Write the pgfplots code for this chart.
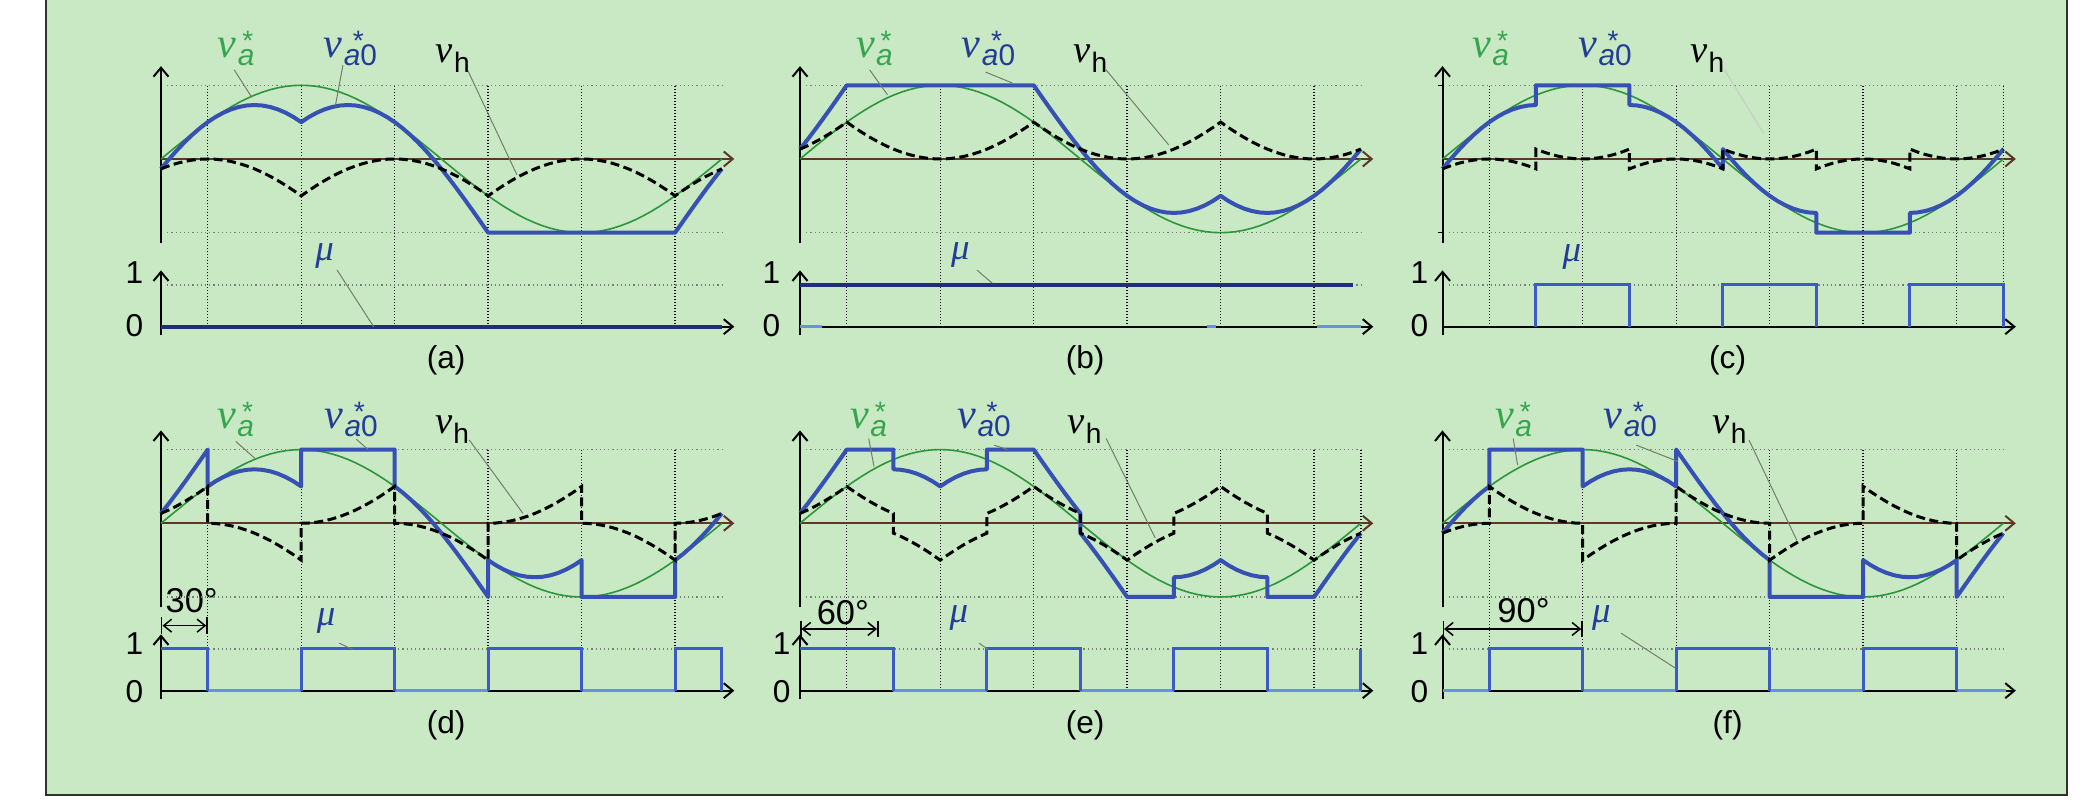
\documentclass[border=0pt]{standalone}
\usepackage{fontspec}
\setmainfont{Liberation Sans}
\newfontfamily\lserif{Liberation Serif}
\usepackage{pgfplots}
\usepackage{pgfplotstable}
\pgfplotsset{compat=1.18}
\usetikzlibrary{arrows.meta}

\definecolor{bg}{RGB}{200,233,195}
\definecolor{framec}{RGB}{45,50,45}
\definecolor{sinec}{RGB}{45,150,60}
\definecolor{sinelab}{RGB}{55,165,80}
\definecolor{va0c}{RGB}{55,80,180}
\definecolor{va0lab}{RGB}{35,60,150}
\definecolor{mudark}{RGB}{35,45,125}
\definecolor{mupulse}{RGB}{60,90,200}
\definecolor{mulight}{RGB}{105,145,225}
\definecolor{leadc}{RGB}{115,125,110}
\definecolor{axbrown}{RGB}{95,55,40}
\definecolor{hgridc}{RGB}{115,130,115}

% labels
\newcommand{\tickfont}{\fontsize{9}{9}\selectfont}
\newcommand{\capfont}{\fontsize{9}{9}\selectfont}
\newcommand{\angfont}{\fontsize{9.8}{9.8}\selectfont}
\newcommand{\mulab}{{\lserif\itshape\fontsize{10.5}{10.5}\selectfont μ}}
\newcommand{\lva}{{\lserif\itshape\fontsize{12}{12}\selectfont v}\kern0.4pt\makebox[0pt][l]{\kern1.3pt\raisebox{1.8pt}{\fontsize{8}{8}\selectfont *}}\raisebox{-2.4pt}{\fontsize{8.5}{8.5}\selectfont\itshape a}}
\newcommand{\lvao}{{\lserif\itshape\fontsize{12}{12}\selectfont v}\kern0.4pt\makebox[0pt][l]{\kern2.6pt\raisebox{1.8pt}{\fontsize{8}{8}\selectfont *}}\raisebox{-2.4pt}{\fontsize{8.5}{8.5}\selectfont{\itshape a}0}}
\newcommand{\lvh}{{\lserif\itshape\fontsize{11}{11}\selectfont v}\kern0.3pt\raisebox{-2.8pt}{\fontsize{8}{8}\selectfont h}}

% reference sine
\pgfplotstableread{
x y
0 0
5 0.0872
10 0.1736
15 0.2588
20 0.3420
25 0.4226
30 0.5000
35 0.5736
40 0.6428
45 0.7071
50 0.7660
55 0.8192
60 0.8660
65 0.9063
70 0.9397
75 0.9659
80 0.9848
85 0.9962
90 1
95 0.9962
100 0.9848
105 0.9659
110 0.9397
115 0.9063
120 0.8660
125 0.8192
130 0.7660
135 0.7071
140 0.6428
145 0.5736
150 0.5000
155 0.4226
160 0.3420
165 0.2588
170 0.1736
175 0.0872
180 0
185 -0.0872
190 -0.1736
195 -0.2588
200 -0.3420
205 -0.4226
210 -0.5000
215 -0.5736
220 -0.6428
225 -0.7071
230 -0.7660
235 -0.8192
240 -0.8660
245 -0.9063
250 -0.9397
255 -0.9659
260 -0.9848
265 -0.9962
270 -1
275 -0.9962
280 -0.9848
285 -0.9659
290 -0.9397
295 -0.9063
300 -0.8660
305 -0.8192
310 -0.7660
315 -0.7071
320 -0.6428
325 -0.5736
330 -0.5000
335 -0.4226
340 -0.3420
345 -0.2588
350 -0.1736
355 -0.0872
360 0
}\tsin

% (a) mu = 0
\pgfplotstableread{
x vh va0
0 -0.1340 -0.1340
5 -0.0937 -0.0065
10 -0.0603 0.1133
15 -0.0341 0.2247
20 -0.0152 0.3268
25 -0.0038 0.4188
30 0 0.5000
35 -0.0038 0.5698
40 -0.0152 0.6276
45 -0.0341 0.6730
50 -0.0603 0.7057
55 -0.0937 0.7255
60 -0.1340 0.7320
65 -0.1808 0.7255
70 -0.2340 0.7057
75 -0.2929 0.6730
80 -0.3572 0.6276
85 -0.4264 0.5698
90 -0.5000 0.5000
95 -0.4264 0.5698
100 -0.3572 0.6276
105 -0.2929 0.6730
110 -0.2340 0.7057
115 -0.1808 0.7255
120 -0.1340 0.7320
125 -0.0937 0.7255
130 -0.0603 0.7057
135 -0.0341 0.6730
140 -0.0152 0.6276
145 -0.0038 0.5698
150 0 0.5000
155 -0.0038 0.4188
160 -0.0152 0.3268
165 -0.0341 0.2247
170 -0.0603 0.1133
175 -0.0937 -0.0065
180 -0.1340 -0.1340
185 -0.1808 -0.2680
190 -0.2340 -0.4076
195 -0.2929 -0.5517
200 -0.3572 -0.6992
205 -0.4264 -0.8490
210 -0.5000 -1
215 -0.4264 -1
220 -0.3572 -1
225 -0.2929 -1
230 -0.2340 -1
235 -0.1808 -1
240 -0.1340 -1
245 -0.0937 -1
250 -0.0603 -1
255 -0.0341 -1
260 -0.0152 -1
265 -0.0038 -1
270 0 -1
275 -0.0038 -1
280 -0.0152 -1
285 -0.0341 -1
290 -0.0603 -1
295 -0.0937 -1
300 -0.1340 -1
305 -0.1808 -1
310 -0.2340 -1
315 -0.2929 -1
320 -0.3572 -1
325 -0.4264 -1
330 -0.5000 -1
335 -0.4264 -0.8490
340 -0.3572 -0.6992
345 -0.2929 -0.5517
350 -0.2340 -0.4076
355 -0.1808 -0.2680
360 -0.1340 -0.1340
}\tA

% (b) mu = 1
\pgfplotstableread{
x vh va0
0 0.1340 0.1340
5 0.1808 0.2680
10 0.2340 0.4076
15 0.2929 0.5517
20 0.3572 0.6992
25 0.4264 0.8490
30 0.5000 1
35 0.4264 1
40 0.3572 1
45 0.2929 1
50 0.2340 1
55 0.1808 1
60 0.1340 1
65 0.0937 1
70 0.0603 1
75 0.0341 1
80 0.0152 1
85 0.0038 1
90 0 1
95 0.0038 1
100 0.0152 1
105 0.0341 1
110 0.0603 1
115 0.0937 1
120 0.1340 1
125 0.1808 1
130 0.2340 1
135 0.2929 1
140 0.3572 1
145 0.4264 1
150 0.5000 1
155 0.4264 0.8490
160 0.3572 0.6992
165 0.2929 0.5517
170 0.2340 0.4076
175 0.1808 0.2680
180 0.1340 0.1340
185 0.0937 0.0065
190 0.0603 -0.1133
195 0.0341 -0.2247
200 0.0152 -0.3268
205 0.0038 -0.4188
210 0 -0.5000
215 0.0038 -0.5698
220 0.0152 -0.6276
225 0.0341 -0.6730
230 0.0603 -0.7057
235 0.0937 -0.7255
240 0.1340 -0.7320
245 0.1808 -0.7255
250 0.2340 -0.7057
255 0.2929 -0.6730
260 0.3572 -0.6276
265 0.4264 -0.5698
270 0.5000 -0.5000
275 0.4264 -0.5698
280 0.3572 -0.6276
285 0.2929 -0.6730
290 0.2340 -0.7057
295 0.1808 -0.7255
300 0.1340 -0.7320
305 0.0937 -0.7255
310 0.0603 -0.7057
315 0.0341 -0.6730
320 0.0152 -0.6276
325 0.0038 -0.5698
330 0 -0.5000
335 0.0038 -0.4188
340 0.0152 -0.3268
345 0.0341 -0.2247
350 0.0603 -0.1133
355 0.0937 0.0065
360 0.1340 0.1340
}\tB

% (c)
\pgfplotstableread{
x vh va0
0 -0.1340 -0.1340
5 -0.0937 -0.0065
10 -0.0603 0.1133
15 -0.0341 0.2247
20 -0.0152 0.3268
25 -0.0038 0.4188
30 0 0.5000
35 -0.0038 0.5698
40 -0.0152 0.6276
45 -0.0341 0.6730
50 -0.0603 0.7057
55 -0.0937 0.7255
60 -0.1340 0.7320
60 0.1340 1
65 0.0937 1
70 0.0603 1
75 0.0341 1
80 0.0152 1
85 0.0038 1
90 0 1
95 0.0038 1
100 0.0152 1
105 0.0341 1
110 0.0603 1
115 0.0937 1
120 0.1340 1
120 -0.1340 0.7320
125 -0.0937 0.7255
130 -0.0603 0.7057
135 -0.0341 0.6730
140 -0.0152 0.6276
145 -0.0038 0.5698
150 0 0.5000
155 -0.0038 0.4188
160 -0.0152 0.3268
165 -0.0341 0.2247
170 -0.0603 0.1133
175 -0.0937 -0.0065
180 -0.1340 -0.1340
180 0.1340 0.1340
185 0.0937 0.0065
190 0.0603 -0.1133
195 0.0341 -0.2247
200 0.0152 -0.3268
205 0.0038 -0.4188
210 0 -0.5000
215 0.0038 -0.5698
220 0.0152 -0.6276
225 0.0341 -0.6730
230 0.0603 -0.7057
235 0.0937 -0.7255
240 0.1340 -0.7320
240 -0.1340 -1
245 -0.0937 -1
250 -0.0603 -1
255 -0.0341 -1
260 -0.0152 -1
265 -0.0038 -1
270 0 -1
275 -0.0038 -1
280 -0.0152 -1
285 -0.0341 -1
290 -0.0603 -1
295 -0.0937 -1
300 -0.1340 -1
300 0.1340 -0.7320
305 0.0937 -0.7255
310 0.0603 -0.7057
315 0.0341 -0.6730
320 0.0152 -0.6276
325 0.0038 -0.5698
330 0 -0.5000
335 0.0038 -0.4188
340 0.0152 -0.3268
345 0.0341 -0.2247
350 0.0603 -0.1133
355 0.0937 0.0065
360 0.1340 0.1340
}\tC

% (d)
\pgfplotstableread{
x vh va0
0 0.1340 0.1340
5 0.1808 0.2680
10 0.2340 0.4076
15 0.2929 0.5517
20 0.3572 0.6992
25 0.4264 0.8490
30 0.5000 1
30 0 0.5000
35 -0.0038 0.5698
40 -0.0152 0.6276
45 -0.0341 0.6730
50 -0.0603 0.7057
55 -0.0937 0.7255
60 -0.1340 0.7320
65 -0.1808 0.7255
70 -0.2340 0.7057
75 -0.2929 0.6730
80 -0.3572 0.6276
85 -0.4264 0.5698
90 -0.5000 0.5000
90 0 1
95 0.0038 1
100 0.0152 1
105 0.0341 1
110 0.0603 1
115 0.0937 1
120 0.1340 1
125 0.1808 1
130 0.2340 1
135 0.2929 1
140 0.3572 1
145 0.4264 1
150 0.5000 1
150 0 0.5000
155 -0.0038 0.4188
160 -0.0152 0.3268
165 -0.0341 0.2247
170 -0.0603 0.1133
175 -0.0937 -0.0065
180 -0.1340 -0.1340
185 -0.1808 -0.2680
190 -0.2340 -0.4076
195 -0.2929 -0.5517
200 -0.3572 -0.6992
205 -0.4264 -0.8490
210 -0.5000 -1
210 0 -0.5000
215 0.0038 -0.5698
220 0.0152 -0.6276
225 0.0341 -0.6730
230 0.0603 -0.7057
235 0.0937 -0.7255
240 0.1340 -0.7320
245 0.1808 -0.7255
250 0.2340 -0.7057
255 0.2929 -0.6730
260 0.3572 -0.6276
265 0.4264 -0.5698
270 0.5000 -0.5000
270 0 -1
275 -0.0038 -1
280 -0.0152 -1
285 -0.0341 -1
290 -0.0603 -1
295 -0.0937 -1
300 -0.1340 -1
305 -0.1808 -1
310 -0.2340 -1
315 -0.2929 -1
320 -0.3572 -1
325 -0.4264 -1
330 -0.5000 -1
330 0 -0.5000
335 0.0038 -0.4188
340 0.0152 -0.3268
345 0.0341 -0.2247
350 0.0603 -0.1133
355 0.0937 0.0065
360 0.1340 0.1340
}\tD

% (e)
\pgfplotstableread{
x vh va0
0 0.1340 0.1340
5 0.1808 0.2680
10 0.2340 0.4076
15 0.2929 0.5517
20 0.3572 0.6992
25 0.4264 0.8490
30 0.5000 1
35 0.4264 1
40 0.3572 1
45 0.2929 1
50 0.2340 1
55 0.1808 1
60 0.1340 1
60 -0.1340 0.7320
65 -0.1808 0.7255
70 -0.2340 0.7057
75 -0.2929 0.6730
80 -0.3572 0.6276
85 -0.4264 0.5698
90 -0.5000 0.5000
95 -0.4264 0.5698
100 -0.3572 0.6276
105 -0.2929 0.6730
110 -0.2340 0.7057
115 -0.1808 0.7255
120 -0.1340 0.7320
120 0.1340 1
125 0.1808 1
130 0.2340 1
135 0.2929 1
140 0.3572 1
145 0.4264 1
150 0.5000 1
155 0.4264 0.8490
160 0.3572 0.6992
165 0.2929 0.5517
170 0.2340 0.4076
175 0.1808 0.2680
180 0.1340 0.1340
180 -0.1340 -0.1340
185 -0.1808 -0.2680
190 -0.2340 -0.4076
195 -0.2929 -0.5517
200 -0.3572 -0.6992
205 -0.4264 -0.8490
210 -0.5000 -1
215 -0.4264 -1
220 -0.3572 -1
225 -0.2929 -1
230 -0.2340 -1
235 -0.1808 -1
240 -0.1340 -1
240 0.1340 -0.7320
245 0.1808 -0.7255
250 0.2340 -0.7057
255 0.2929 -0.6730
260 0.3572 -0.6276
265 0.4264 -0.5698
270 0.5000 -0.5000
275 0.4264 -0.5698
280 0.3572 -0.6276
285 0.2929 -0.6730
290 0.2340 -0.7057
295 0.1808 -0.7255
300 0.1340 -0.7320
300 -0.1340 -1
305 -0.1808 -1
310 -0.2340 -1
315 -0.2929 -1
320 -0.3572 -1
325 -0.4264 -1
330 -0.5000 -1
335 -0.4264 -0.8490
340 -0.3572 -0.6992
345 -0.2929 -0.5517
350 -0.2340 -0.4076
355 -0.1808 -0.2680
360 -0.1340 -0.1340
}\tE

% (f)
\pgfplotstableread{
x vh va0
0 -0.1340 -0.1340
5 -0.0937 -0.0065
10 -0.0603 0.1133
15 -0.0341 0.2247
20 -0.0152 0.3268
25 -0.0038 0.4188
30 0 0.5000
30 0.5000 1
35 0.4264 1
40 0.3572 1
45 0.2929 1
50 0.2340 1
55 0.1808 1
60 0.1340 1
65 0.0937 1
70 0.0603 1
75 0.0341 1
80 0.0152 1
85 0.0038 1
90 0 1
90 -0.5000 0.5000
95 -0.4264 0.5698
100 -0.3572 0.6276
105 -0.2929 0.6730
110 -0.2340 0.7057
115 -0.1808 0.7255
120 -0.1340 0.7320
125 -0.0937 0.7255
130 -0.0603 0.7057
135 -0.0341 0.6730
140 -0.0152 0.6276
145 -0.0038 0.5698
150 0 0.5000
150 0.5000 1
155 0.4264 0.8490
160 0.3572 0.6992
165 0.2929 0.5517
170 0.2340 0.4076
175 0.1808 0.2680
180 0.1340 0.1340
185 0.0937 0.0065
190 0.0603 -0.1133
195 0.0341 -0.2247
200 0.0152 -0.3268
205 0.0038 -0.4188
210 0 -0.5000
210 -0.5000 -1
215 -0.4264 -1
220 -0.3572 -1
225 -0.2929 -1
230 -0.2340 -1
235 -0.1808 -1
240 -0.1340 -1
245 -0.0937 -1
250 -0.0603 -1
255 -0.0341 -1
260 -0.0152 -1
265 -0.0038 -1
270 0 -1
270 0.5000 -0.5000
275 0.4264 -0.5698
280 0.3572 -0.6276
285 0.2929 -0.6730
290 0.2340 -0.7057
295 0.1808 -0.7255
300 0.1340 -0.7320
305 0.0937 -0.7255
310 0.0603 -0.7057
315 0.0341 -0.6730
320 0.0152 -0.6276
325 0.0038 -0.5698
330 0 -0.5000
330 -0.5000 -1
335 -0.4264 -0.8490
340 -0.3572 -0.6992
345 -0.2929 -0.5517
350 -0.2340 -0.4076
355 -0.1808 -0.2680
360 -0.1340 -0.1340
}\tF

\pgfplotsset{
  pnl/.style={
    anchor=south west, x=0.01558cm, xmin=0, xmax=368,
    enlargelimits=false, axis lines*=middle,
    xtick=\empty, ytick=\empty, clip=false,
    axis line style={line width=0.2mm, -{Straight Barb[length=0.9mm,width=1.5mm]}},
  },
  up/.style={pnl, y=0.737cm, ymin=-1.14, ymax=1.26, x axis line style={draw=axbrown}},
  lo/.style={pnl, y=0.417cm, ymin=-0.2, ymax=1.35},
  sinep/.style={sinec, line width=0.16mm},
  va0p/.style={va0c, line width=0.4mm, line join=round},
  vhp/.style={black, line width=0.3mm, dash pattern=on 0.9mm off 0.45mm},
  mud/.style={mudark, line width=0.4mm},
  mup/.style={mupulse, line width=0.3mm},
  mul/.style={mulight, line width=0.25mm},
}
\tikzset{
  vgrid/.style={line width=0.14mm, dash pattern=on 0.1mm off 0.2mm, black},
  hgrid/.style={line width=0.15mm, dash pattern=on 0.12mm off 0.3mm, hgridc},
  lead/.style={leadc, line width=0.1mm},
  lab/.style={anchor=base west, inner sep=0pt},
}
\newcommand{\vgrids}[1]{\pgfplotsinvokeforeach{#1}{\draw[vgrid] (axis cs:##1,0) -- (axis cs:##1,5.79);}}
\newcommand{\hgup}{\draw[hgrid] (axis cs:4,1) -- (axis cs:360,1); \draw[hgrid] (axis cs:4,-1) -- (axis cs:360,-1);}
\newcommand{\hglo}{\draw[hgrid] (axis cs:4,1) -- (axis cs:360,1);}

\begin{document}
\begin{tikzpicture}
\path[use as bounding box] (0,0) rectangle (20.92,8.03);
\fill[white] (0,0) rectangle (20.92,8.03);
\draw[framec, line width=0.25mm, fill=bg] (0.46,0.08) rectangle (20.67,8.4);

% ---------- (a) ----------
\begin{axis}[lo, at={(1.61cm,4.6796cm)}]
\vgrids{30,90,150,210,270,330}
\hglo
\addplot[mud] coordinates {(0,0) (360,0)};
\draw[lead] (axis cs:113,1.36) -- (axis cs:136.5,0);
\node[text=va0lab] at (axis cs:105,1.70) {\mulab};
\node[font=\tickfont] at (axis cs:-17,1.29) {1};
\node[font=\tickfont] at (axis cs:-17,0.03) {0};
\node[font=\capfont] at (axis cs:183,-0.8) {(a)};
\end{axis}
\begin{axis}[up, at={(1.61cm,5.5998cm)}]
\hgup
\addplot[sinep] table[x=x,y=y]{\tsin};
\addplot[va0p] table[x=x,y=va0]{\tA};
\addplot[vhp] table[x=x,y=vh]{\tA};
\draw[lead] (axis cs:47,1.21) -- (axis cs:58,0.845);
\draw[lead] (axis cs:116.8,1.275) -- (axis cs:112,0.73);
\draw[lead] (axis cs:196.7,1.21) -- (axis cs:228.5,-0.217);
\node[lab, text=sinelab] at (axis cs:36,1.38) {\lva};
\node[lab, text=va0lab] at (axis cs:104,1.38) {\lvao};
\node[lab] at (axis cs:176,1.31) {\lvh};
\end{axis}

% ---------- (b) ----------
\begin{axis}[lo, at={(8.00cm,4.6796cm)}]
\vgrids{30,90,150,210,270,330}
\hglo
\addplot[mul] coordinates {(0,0) (14,0)};
\addplot[mul] coordinates {(261,0) (267,0)};
\addplot[mul] coordinates {(332,0) (360,0)};
\addplot[mud] coordinates {(0,1) (355,1)};
\draw[lead] (axis cs:113.5,1.36) -- (axis cs:123.5,1.04);
\node[text=va0lab] at (axis cs:103,1.72) {\mulab};
\node[font=\tickfont] at (axis cs:-18.4,1.29) {1};
\node[font=\tickfont] at (axis cs:-18.4,0.03) {0};
\node[font=\capfont] at (axis cs:183,-0.8) {(b)};
\end{axis}
\begin{axis}[up, at={(8.00cm,5.5998cm)}]
\hgup
\addplot[sinep] table[x=x,y=y]{\tsin};
\addplot[va0p] table[x=x,y=va0]{\tB};
\addplot[vhp] table[x=x,y=vh]{\tB};
\draw[lead] (axis cs:44.7,1.21) -- (axis cs:56.2,0.87);
\draw[lead] (axis cs:119,1.18) -- (axis cs:136.4,1.03);
\draw[lead] (axis cs:196.4,1.21) -- (axis cs:236.7,0.19);
\node[lab, text=sinelab] at (axis cs:35.5,1.38) {\lva};
\node[lab, text=va0lab] at (axis cs:103.4,1.38) {\lvao};
\node[lab] at (axis cs:175,1.31) {\lvh};
\end{axis}

% ---------- (c) ----------
\begin{axis}[lo, at={(14.425cm,4.6796cm)}]
\vgrids{30,90,150,210,270,330,360}
\hglo
\addplot[mup] coordinates {(60,0) (60,1) (120,1) (120,0)};
\addplot[mup] coordinates {(180,0) (180,1) (240,1) (240,0)};
\addplot[mup] coordinates {(300,0) (300,1) (360,1) (360,0)};
\node[text=va0lab] at (axis cs:83,1.67) {\mulab};
\node[font=\tickfont] at (axis cs:-14.8,1.29) {1};
\node[font=\tickfont] at (axis cs:-14.8,0.03) {0};
\node[font=\capfont] at (axis cs:183,-0.8) {(c)};
\end{axis}
\begin{axis}[up, at={(14.425cm,5.5998cm)}]
\hgup
\draw[line width=0.15mm] (axis cs:-3,1) -- (axis cs:0,1);
\draw[line width=0.15mm] (axis cs:-3,-1) -- (axis cs:0,-1);
\addplot[sinep] table[x=x,y=y]{\tsin};
\addplot[va0p] table[x=x,y=va0]{\tC};
\addplot[vhp] table[x=x,y=vh]{\tC};
\draw[lead, leadc!40] (axis cs:181,1.21) -- (axis cs:206,0.35);
\node[lab, text=sinelab] at (axis cs:18.7,1.38) {\lva};
\node[lab, text=va0lab] at (axis cs:86.8,1.38) {\lvao};
\node[lab] at (axis cs:158.7,1.31) {\lvh};
\end{axis}

% ---------- (d) ----------
\begin{axis}[lo, at={(1.61cm,1.0396cm)}]
\vgrids{30,90,150,210,270,330}
\hglo
\addplot[mul] coordinates {(30,0) (90,0)};
\addplot[mul] coordinates {(150,0) (210,0)};
\addplot[mul] coordinates {(270,0) (330,0)};
\addplot[mup] coordinates {(0,1) (30,1) (30,0)};
\addplot[mup] coordinates {(90,0) (90,1) (150,1) (150,0)};
\addplot[mup] coordinates {(210,0) (210,1) (270,1) (270,0)};
\addplot[mup] coordinates {(330,0) (330,1) (360,1) (360,0)};
\draw[lead] (axis cs:114.4,1.14) -- (axis cs:122.9,0.99);
\node[text=va0lab] at (axis cs:106,1.66) {\mulab};
\draw[line width=0.15mm, >={Straight Barb[length=0.8mm,width=1.3mm]}, |<->|] (axis cs:0,1.56) -- (axis cs:30,1.56);
\node[font=\angfont] at (axis cs:19.7,2.15) {30°};
\node[font=\tickfont] at (axis cs:-17,1.14) {1};
\node[font=\tickfont] at (axis cs:-17,-0.03) {0};
\node[font=\capfont] at (axis cs:183,-0.84) {(d)};
\end{axis}
\begin{axis}[up, at={(1.61cm,1.9568cm)}]
\hgup
\addplot[sinep] table[x=x,y=y]{\tsin};
\addplot[va0p] table[x=x,y=va0]{\tD};
\addplot[vhp] table[x=x,y=vh]{\tD};
\draw[lead] (axis cs:48,1.11) -- (axis cs:60.3,0.88);
\draw[lead] (axis cs:125.4,1.14) -- (axis cs:132.9,1.0);
\draw[lead] (axis cs:197.9,1.13) -- (axis cs:232.3,0.135);
\node[lab, text=sinelab] at (axis cs:35.7,1.29) {\lva};
\node[lab, text=va0lab] at (axis cs:104.5,1.29) {\lvao};
\node[lab] at (axis cs:175.6,1.22) {\lvh};
\end{axis}

% ---------- (e) ----------
\begin{axis}[lo, at={(8.00cm,1.0396cm)}]
\vgrids{30,90,150,210,270,330,360}
\hglo
\addplot[mul] coordinates {(60,0) (120,0)};
\addplot[mul] coordinates {(180,0) (240,0)};
\addplot[mul] coordinates {(300,0) (360,0)};
\addplot[mup] coordinates {(0,1) (60,1) (60,0)};
\addplot[mup] coordinates {(120,0) (120,1) (180,1) (180,0)};
\addplot[mup] coordinates {(240,0) (240,1) (300,1) (300,0)};
\addplot[mup] coordinates {(360,0) (360,1)};
\draw[lead] (axis cs:114.9,1.14) -- (axis cs:120.7,0.99);
\node[text=va0lab] at (axis cs:102,1.74) {\mulab};
\draw[line width=0.15mm, >={Straight Barb[length=0.8mm,width=1.3mm]}, |<->|] (axis cs:0,1.48) -- (axis cs:50.4,1.48);
\node[font=\angfont] at (axis cs:27.5,1.86) {60°};
\node[font=\tickfont] at (axis cs:-11.7,1.14) {1};
\node[font=\tickfont] at (axis cs:-11.7,-0.03) {0};
\node[font=\capfont] at (axis cs:183,-0.84) {(e)};
\end{axis}
\begin{axis}[up, at={(8.00cm,1.9568cm)}]
\hgup
\addplot[sinep] table[x=x,y=y]{\tsin};
\addplot[va0p] table[x=x,y=va0]{\tE};
\addplot[vhp] table[x=x,y=vh]{\tE};
\draw[lead] (axis cs:44.1,1.15) -- (axis cs:47.5,0.77);
\draw[lead] (axis cs:124.6,1.06) -- (axis cs:133.2,1.0);
\draw[lead] (axis cs:196.5,1.15) -- (axis cs:228,-0.2);
\node[lab, text=sinelab] at (axis cs:31.8,1.29) {\lva};
\node[lab, text=va0lab] at (axis cs:100.6,1.29) {\lvao};
\node[lab] at (axis cs:171.4,1.22) {\lvh};
\end{axis}

% ---------- (f) ----------
\begin{axis}[lo, at={(14.425cm,1.0396cm)}]
\vgrids{30,90,150,210,270,330}
\hglo
\addplot[mul] coordinates {(0,0) (30,0)};
\addplot[mul] coordinates {(90,0) (150,0)};
\addplot[mul] coordinates {(210,0) (270,0)};
\addplot[mul] coordinates {(330,0) (362,0)};
\addplot[mup] coordinates {(30,0) (30,1) (90,1) (90,0)};
\addplot[mup] coordinates {(150,0) (150,1) (210,1) (210,0)};
\addplot[mup] coordinates {(270,0) (270,1) (330,1) (330,0)};
\draw[lead] (axis cs:114.6,1.38) -- (axis cs:149.5,0.54);
\node[text=va0lab] at (axis cs:102,1.74) {\mulab};
\draw[line width=0.15mm, >={Straight Barb[length=0.8mm,width=1.3mm]}, |<->|] (axis cs:0,1.48) -- (axis cs:90,1.48);
\node[font=\angfont] at (axis cs:52,1.91) {90°};
\node[font=\tickfont] at (axis cs:-14.8,1.14) {1};
\node[font=\tickfont] at (axis cs:-14.8,-0.03) {0};
\node[font=\capfont] at (axis cs:183,-0.84) {(f)};
\end{axis}
\begin{axis}[up, at={(14.425cm,1.9568cm)}]
\hgup
\addplot[sinep] table[x=x,y=y]{\tsin};
\addplot[va0p] table[x=x,y=va0]{\tF};
\addplot[vhp] table[x=x,y=vh]{\tF};
\draw[lead] (axis cs:45.4,1.15) -- (axis cs:48.2,0.79);
\draw[lead] (axis cs:124.4,1.06) -- (axis cs:151,0.84);
\draw[lead] (axis cs:196.7,1.13) -- (axis cs:227.4,-0.23);
\node[lab, text=sinelab] at (axis cs:33.4,1.29) {\lva};
\node[lab, text=va0lab] at (axis cs:103,1.29) {\lvao};
\node[lab] at (axis cs:173,1.22) {\lvh};
\end{axis}
\end{tikzpicture}
\end{document}
